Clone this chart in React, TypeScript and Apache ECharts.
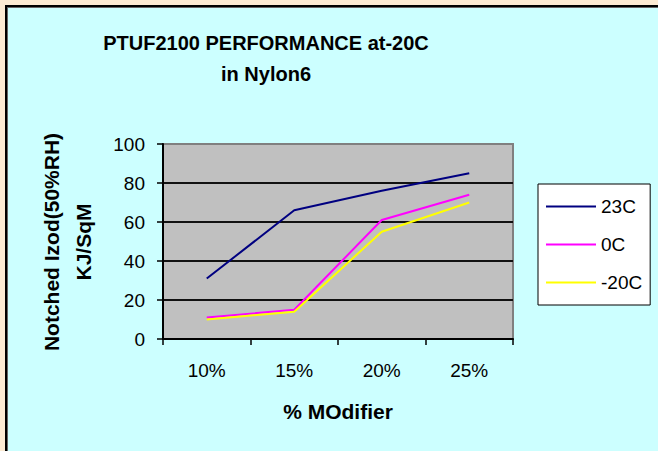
import React, { useEffect, useRef } from "react";
import * as echarts from "echarts";

const categories = ["10%", "15%", "20%", "25%"];
const series23C = [31, 66, 76, 85];
const series0C = [11, 15, 61, 74];
const seriesMinus20C = [10, 14, 55, 70];
const seriesNames = ["23C", "0C", "-20C"];
const titleLines = ["PTUF2100 PERFORMANCE at-20C", "in Nylon6"];
const yAxisTitle = ["Notched Izod(50%RH)", "KJ/SqM"];
const xAxisTitle = "% MOdifier";

const FONT = "Arial, 'Liberation Sans', sans-serif";

export default function App() {
  const ref = useRef<HTMLDivElement>(null);
  useEffect(() => {
    if (!ref.current) return;
    const chart = echarts.init(ref.current, null, { renderer: "svg" });
    chart.setOption({
      animation: false,
      backgroundColor: "transparent",
      textStyle: { fontFamily: FONT },
      graphic: [
        {
          type: "text",
          x: 266,
          y: 58,
          style: {
            text: titleLines.join("\n"),
            align: "center",
            verticalAlign: "middle",
            font: `bold 20px ${FONT}`,
            lineHeight: 31,
            fill: "#000",
          },
        },
        {
          type: "text",
          x: 67,
          y: 242,
          rotation: Math.PI / 2,
          style: {
            text: yAxisTitle.join("\n"),
            align: "center",
            verticalAlign: "middle",
            font: `bold 21px ${FONT}`,
            lineHeight: 32,
            fill: "#000",
          },
        },
      ],
      legend: {
        orient: "vertical",
        left: 538,
        top: 184,
        backgroundColor: "#fff",
        borderColor: "#000",
        borderWidth: 1,
        borderRadius: 0,
        padding: [13, 8, 13, 8],
        itemWidth: 50,
        itemHeight: 2,
        itemGap: 19,
        icon: "rect",
        data: seriesNames,
        textStyle: { fontSize: 19, color: "#000", fontFamily: FONT },
      },
      grid: {
        left: 163,
        top: 144,
        right: 145,
        bottom: 112,
        show: true,
        backgroundColor: "#C0C0C0",
        borderColor: "#808080",
        borderWidth: 2,
        containLabel: false,
      },
      xAxis: {
        type: "category",
        data: categories,
        boundaryGap: true,
        name: xAxisTitle,
        nameLocation: "middle",
        nameGap: 62,
        nameTextStyle: { fontSize: 21, fontWeight: "bold", color: "#000", fontFamily: FONT },
        axisLine: { lineStyle: { color: "#000", width: 2 } },
        axisTick: { show: true, inside: false, length: 6, alignWithLabel: false, lineStyle: { color: "#000", width: 1.5 } },
        axisLabel: { fontSize: 19, color: "#000", margin: 22, fontFamily: FONT },
        splitLine: { show: false },
      },
      yAxis: {
        type: "value",
        min: 0,
        max: 100,
        interval: 20,
        axisLine: { show: true, lineStyle: { color: "#000", width: 2 } },
        axisTick: { show: true, inside: false, length: 6, lineStyle: { color: "#000", width: 1.5 } },
        axisLabel: { fontSize: 19, color: "#000", margin: 18, fontFamily: FONT },
        splitLine: {
          show: true,
          lineStyle: { color: ["#000", "#111", "#111", "#111", "#111", "#808080"], width: 2 },
        },
      },
      series: [
        {
          name: seriesNames[0],
          type: "line",
          data: series23C,
          symbol: "none",
          color: "#000080",
          lineStyle: { color: "#000080", width: 2 },
        },
        {
          name: seriesNames[1],
          type: "line",
          data: series0C,
          symbol: "none",
          color: "#FF00FF",
          lineStyle: { color: "#FF00FF", width: 2 },
        },
        {
          name: seriesNames[2],
          type: "line",
          data: seriesMinus20C,
          symbol: "none",
          color: "#FFFF00",
          lineStyle: { color: "#FFFF00", width: 2 },
        },
      ],
    });
    return () => chart.dispose();
  }, []);

  return (
    <div
      style={{
        position: "fixed",
        left: 0,
        top: 0,
        width: 658,
        height: 451,
        background: "#FCEBD3",
        overflow: "hidden",
      }}
    >
      <div
        style={{
          position: "absolute",
          left: 5,
          top: 5,
          width: 700,
          height: 500,
          background: "#CCFFFF",
          borderLeft: "2px solid #000",
          borderTop: "2px solid #000",
          boxShadow: "inset 1px 1px 0 #666",
        }}
      />
      <div ref={ref} style={{ position: "absolute", left: 0, top: 0, width: 658, height: 451 }} />
    </div>
  );
}
